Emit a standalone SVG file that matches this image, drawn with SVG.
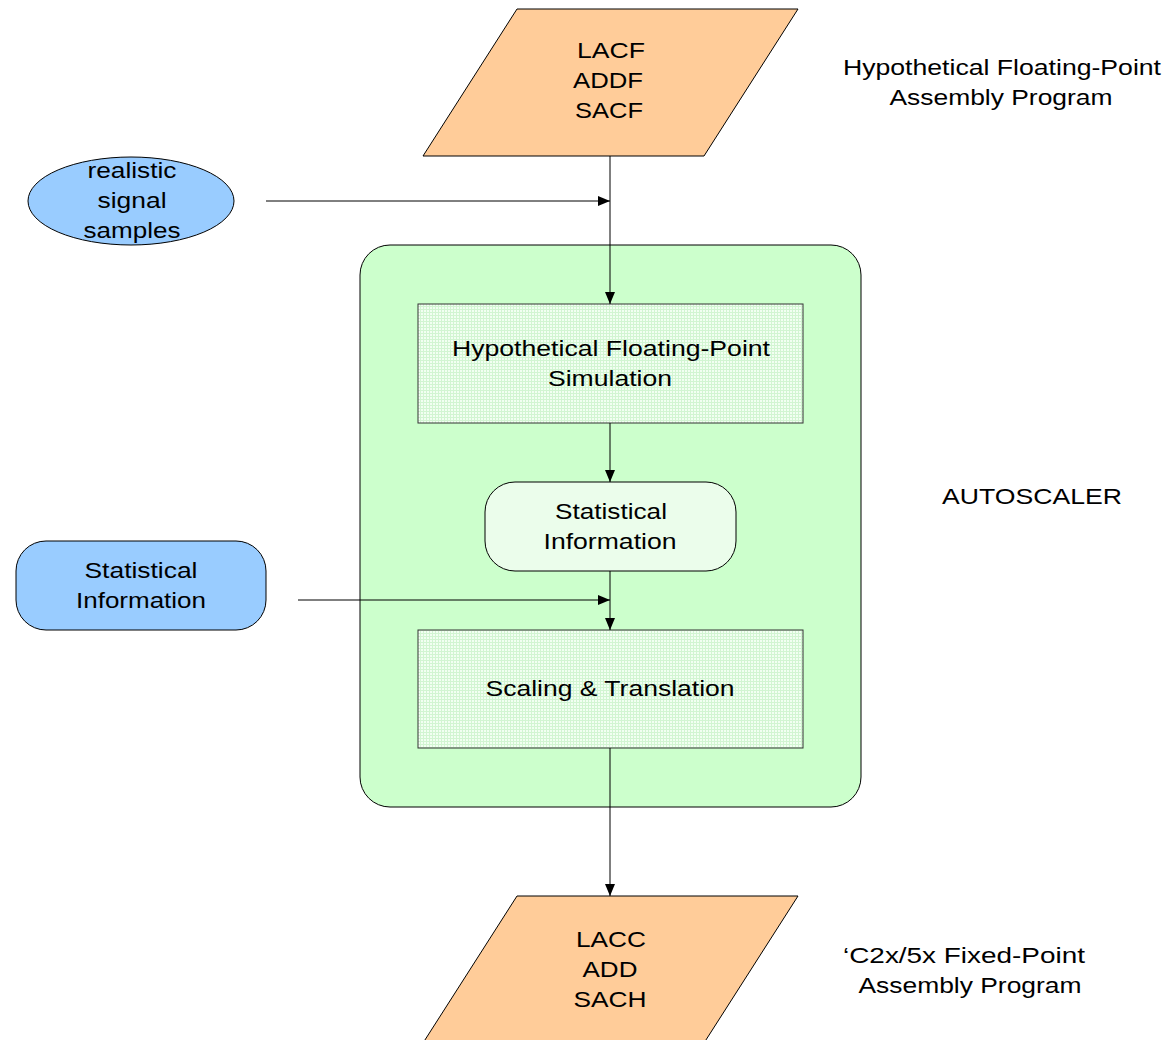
<svg xmlns="http://www.w3.org/2000/svg" width="1167" height="1040" viewBox="0 0 1167 1040">
<defs>
<marker id="arr" markerWidth="12" markerHeight="10" refX="12" refY="5" orient="auto" markerUnits="userSpaceOnUse">
<path d="M0,0 L12,5 L0,10 Z" fill="#000"/>
</marker>
<pattern id="grid" width="3" height="3" patternUnits="userSpaceOnUse">
<rect width="3" height="3" fill="#f2fff2"/>
<path d="M0,0.5 H3 M0.5,0 V3" stroke="#d2f5d2" stroke-width="1"/>
</pattern>
</defs>
<style>
text{font-family:"Liberation Sans",Arial,sans-serif;font-size:22px;fill:#000;text-anchor:middle}
.sh{stroke:#000;stroke-width:1}
.box{fill:url(#grid);stroke:#333;stroke-width:1}
.c{stroke:#000;stroke-width:1;fill:none}
</style>
<rect width="1167" height="1040" fill="#fff"/>
<g id="autoscaler">
<rect x="360" y="245" width="501" height="562" rx="30" fill="#ccffcc" class="sh"/>
</g>
<g id="fp-program">
<polygon points="517,9 798,9 704,156 423,156" fill="#ffcc99" class="sh"/>
<text x="611" y="58" textLength="68" lengthAdjust="spacingAndGlyphs">LACF</text>
<text x="608" y="88" textLength="70" lengthAdjust="spacingAndGlyphs">ADDF</text>
<text x="609" y="118" textLength="68" lengthAdjust="spacingAndGlyphs">SACF</text>
</g>
<g id="fixed-program">
<polygon points="517,896 798,896 704,1043 423,1043" fill="#ffcc99" class="sh"/>
<text x="611" y="947" textLength="70" lengthAdjust="spacingAndGlyphs">LACC</text>
<text x="610" y="977" textLength="55" lengthAdjust="spacingAndGlyphs">ADD</text>
<text x="610" y="1007" textLength="73" lengthAdjust="spacingAndGlyphs">SACH</text>
</g>
<g id="signal-samples">
<ellipse cx="131" cy="201" rx="103" ry="44" fill="#99ccff" class="sh"/>
<text x="132" y="178" textLength="89" lengthAdjust="spacingAndGlyphs">realistic</text>
<text x="132" y="208" textLength="69" lengthAdjust="spacingAndGlyphs">signal</text>
<text x="132" y="238" textLength="97" lengthAdjust="spacingAndGlyphs">samples</text>
</g>
<g id="stat-info-input">
<rect x="16" y="541" width="250" height="89" rx="30" fill="#99ccff" class="sh"/>
<text x="141" y="578" textLength="113" lengthAdjust="spacingAndGlyphs">Statistical</text>
<text x="141" y="608" textLength="130" lengthAdjust="spacingAndGlyphs">Information</text>
</g>
<g id="simulation">
<rect x="418" y="304" width="385" height="119" class="box"/>
<text x="611" y="356" textLength="318" lengthAdjust="spacingAndGlyphs">Hypothetical Floating-Point</text>
<text x="610" y="386" textLength="124" lengthAdjust="spacingAndGlyphs">Simulation</text>
</g>
<g id="stat-info">
<rect x="485" y="482" width="251" height="89" rx="30" fill="#ebfdeb" class="sh"/>
<text x="611" y="519" textLength="112" lengthAdjust="spacingAndGlyphs">Statistical</text>
<text x="610" y="549" textLength="133" lengthAdjust="spacingAndGlyphs">Information</text>
</g>
<g id="scaling">
<rect x="418" y="630" width="385" height="118" class="box"/>
<text x="610" y="696" textLength="249" lengthAdjust="spacingAndGlyphs">Scaling &amp; Translation</text>
</g>
<g id="labels">
<text x="1002" y="75" textLength="318" lengthAdjust="spacingAndGlyphs">Hypothetical Floating-Point</text>
<text x="1001" y="105" textLength="223" lengthAdjust="spacingAndGlyphs">Assembly Program</text>
<text x="1032" y="504" textLength="180" lengthAdjust="spacingAndGlyphs">AUTOSCALER</text>
<text x="964" y="963" textLength="242" lengthAdjust="spacingAndGlyphs">‘C2x/5x Fixed-Point</text>
<text x="970" y="993" textLength="223" lengthAdjust="spacingAndGlyphs">Assembly Program</text>
</g>
<g id="connectors">
<line x1="610" y1="156" x2="610" y2="304" class="c" marker-end="url(#arr)"/>
<line x1="266" y1="201" x2="610" y2="201" class="c" marker-end="url(#arr)"/>
<line x1="610" y1="423" x2="610" y2="482" class="c" marker-end="url(#arr)"/>
<line x1="610" y1="571" x2="610" y2="630" class="c" marker-end="url(#arr)"/>
<line x1="298" y1="600" x2="610" y2="600" class="c" marker-end="url(#arr)"/>
<line x1="610" y1="748" x2="610" y2="896" class="c" marker-end="url(#arr)"/>
</g>
</svg>
